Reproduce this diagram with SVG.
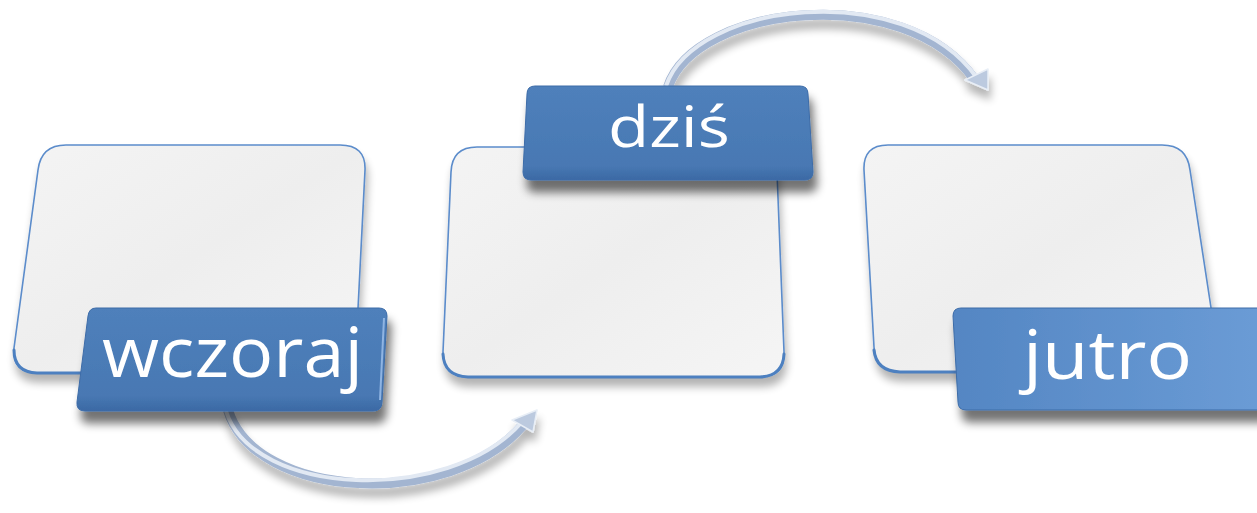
<svg xmlns="http://www.w3.org/2000/svg" width="1257" height="513" viewBox="0 0 1257 513">
<style>
.box{fill:url(#boxGrad);stroke:#5b8ccb;stroke-width:1.6}
.boxEdge{fill:none;stroke:#4d80c0;stroke-width:3;stroke-linecap:round}
.lbl{stroke:#3d6ca8;stroke-width:1}
.txt{font-family:"Open Sans","Noto Sans",sans-serif;fill:#ffffff}
.tubeOuter{fill:none;stroke:#a3b5d1;stroke-width:10;stroke-linecap:butt}
.tubeInner{fill:none;stroke:#e2e9f3;stroke-width:4;stroke-linecap:butt}
.head{fill:#bccadf;stroke:#e8eef6;stroke-width:1.5;stroke-linejoin:round}
</style>
<defs>
<linearGradient id="boxGrad" x1="0" y1="0" x2="1" y2="1">
<stop offset="0" stop-color="#f4f4f4"/>
<stop offset="0.5" stop-color="#eeeeee"/>
<stop offset="1" stop-color="#f5f5f5"/>
</linearGradient>
<linearGradient id="blueA" x1="0" y1="0" x2="0" y2="1">
<stop offset="0" stop-color="#4f80bb"/>
<stop offset="0.85" stop-color="#4878b3"/>
<stop offset="1" stop-color="#3b69a4"/>
</linearGradient>
<linearGradient id="blueC" x1="0" y1="0" x2="1" y2="0">
<stop offset="0" stop-color="#5486c3"/>
<stop offset="1" stop-color="#6b9cd6"/>
</linearGradient>
<filter id="shadow" x="-20%" y="-20%" width="140%" height="170%">
<feGaussianBlur in="SourceAlpha" stdDeviation="5"/>
<feOffset dx="4" dy="12"/>
<feComponentTransfer><feFuncA type="linear" slope="0.55"/></feComponentTransfer>
<feMerge><feMergeNode/><feMergeNode in="SourceGraphic"/></feMerge>
</filter>
<filter id="shadowSoft" x="-20%" y="-20%" width="140%" height="170%">
<feGaussianBlur in="SourceAlpha" stdDeviation="4"/>
<feOffset dx="2" dy="9"/>
<feComponentTransfer><feFuncA type="linear" slope="0.3"/></feComponentTransfer>
<feMerge><feMergeNode/><feMergeNode in="SourceGraphic"/></feMerge>
</filter>
</defs>
<rect width="1257" height="513" fill="#ffffff"/>

<g id="connectors">
<g id="arrow1" filter="url(#shadowSoft)">
<path class="tubeOuter" d="M 228 410 C 255 500, 450 510, 523 425"/>
<path class="tubeInner" d="M 226 411 C 253 497, 448 505, 521 423"/>
<polygon class="head" points="537,410 512,420 533,432"/>
</g>
<g id="arrow2" filter="url(#shadowSoft)">
<path class="tubeOuter" d="M 668 87 C 695 5, 905 -20, 975 80"/>
<path class="tubeInner" d="M 666 86 C 694 2, 905 -24, 977 78"/>
<polygon class="head" points="965,80 988,69 988,90"/>
</g>
</g>

<g id="node-wczoraj">
<path class="box" filter="url(#shadowSoft)" d="M 66 145 L 340 145 Q 366 145 365 170 L 356 348 Q 355 373 330 373 L 37 373 Q 12 373 14 348 L 38 170 Q 41 145 66 145 Z"/>
<path class="boxEdge" d="M 14 350 Q 14 372 37 373 L 330 373"/>
<path class="lbl" filter="url(#shadow)" fill="url(#blueA)" d="M 96 308 L 379 308 Q 387 308 387 316 L 382 402 Q 382 411 373 411 L 85 411 Q 76 411 77 402 L 88 316 Q 89 308 96 308 Z"/>
<path d="M 384 318 L 380 400" stroke="#8fb4e2" stroke-width="2" fill="none"/>
<text class="txt" x="102" y="377" font-size="70" textLength="261" lengthAdjust="spacingAndGlyphs">wczoraj</text>
</g>

<g id="node-dzis">
<path class="box" filter="url(#shadowSoft)" d="M 477 147 L 752 147 Q 776 147 777 172 L 784 352 Q 785 377 760 377 L 468 377 Q 443 377 443 352 L 451 172 Q 452 147 477 147 Z"/>
<path class="boxEdge" d="M 443 354 Q 444 376 468 377 L 760 377 Q 783 376 784 354"/>
<path class="lbl" filter="url(#shadow)" fill="url(#blueA)" d="M 535 86 L 800 86 Q 808 86 808 94 L 813 172 Q 813 180 805 180 L 531 180 Q 523 180 523 172 L 527 94 Q 527 86 535 86 Z"/>
<text class="txt" x="608" y="147" font-size="57" textLength="122" lengthAdjust="spacingAndGlyphs">dziś</text>
</g>

<g id="node-jutro">
<path class="box" filter="url(#shadowSoft)" d="M 888 145 L 1162 145 Q 1187 145 1190 170 L 1217 347 Q 1220 372 1195 372 L 900 372 Q 875 372 874 347 L 864 170 Q 863 145 888 145 Z"/>
<path class="boxEdge" d="M 874 350 Q 876 371 900 372 L 960 372"/>
<path class="lbl" filter="url(#shadow)" fill="url(#blueC)" d="M 961 308 L 1265 308 L 1268 410 L 966 410 Q 958 410 958 402 L 953 316 Q 953 308 961 308 Z"/>
<text class="txt" x="1023" y="379" font-size="68" textLength="169" lengthAdjust="spacingAndGlyphs">jutro</text>
</g>
</svg>
